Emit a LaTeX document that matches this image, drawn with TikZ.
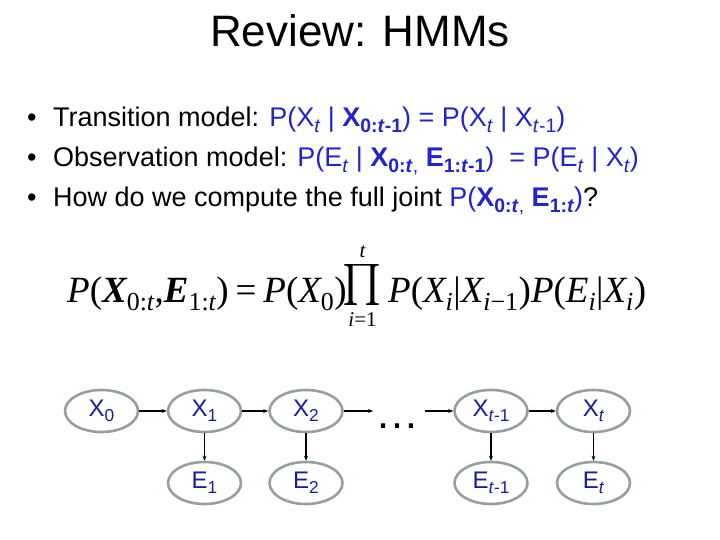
\documentclass[tikz,border=0pt]{standalone}
\usepackage{fontspec}
\usepackage{amsmath}
\usepackage{graphicx}
\setmainfont{Liberation Sans}
\newfontfamily\tms{Liberation Serif}
\usetikzlibrary{shapes.geometric,arrows.meta}
\definecolor{fblue}{RGB}{36,36,200}
\definecolor{nblue}{RGB}{28,28,150}
\definecolor{egray}{RGB}{150,160,160}
\newcommand\sbs[1]{\raisebox{-0.22em}{\scalebox{0.72}{#1}}}
\newcommand\tmi[1]{\text{\tms\itshape #1}}
\newcommand\tmu[1]{\text{\tms #1}}
\newcommand\tmb[1]{\text{\tms\bfseries\itshape #1}}
\tikzset{
  x=1pt, y=-1pt,
  var/.style={ellipse, draw=egray, line width=2.6pt, minimum width=73pt, minimum height=42pt, inner sep=0pt, text=nblue, font=\fontsize{24}{26}\selectfont},
  edge/.style={-{Stealth[length=5pt,width=4pt]}, line width=1.3pt, black},
  bul/.style={anchor=base west, inner sep=0pt, font=\fontsize{27}{30}\selectfont},
  fml/.style={anchor=base west, inner sep=0pt, font=\fontsize{37}{40}\selectfont},
  lim/.style={anchor=base, inner sep=0pt, font=\fontsize{21}{24}\selectfont\tms},
}
\begin{document}
\begin{tikzpicture}
\fill[white] (0,0) rectangle (720,540);
\useasboundingbox (0,0) rectangle (720,540);
\node[anchor=base, inner sep=0pt, font=\fontsize{44}{48}\selectfont] (title) at (360,47) {Review: HMMs};
\node[bul] (b1) at (27,127) {•};
\node[bul] (b2) at (27,167) {•};
\node[bul] (b3) at (27,207) {•};
\node[bul] (l1) at (53,127) {Transition model: {\color{fblue}P(X\sbs{\textit{t}} | \textbf{X}\sbs{\textbf{0:\textit{t}-1}}) = P(X\sbs{\textit{t}} | X\sbs{\textit{t}-1})}};
\node[bul] (l2) at (53,167) {Observation model: {\color{fblue}P(E\sbs{\textit{t}} | \textbf{X}\sbs{\textbf{0:\textit{t}},} \textbf{E}\sbs{\textbf{1:\textit{t}-1}})\ \ = P(E\sbs{\textit{t}} | X\sbs{\textit{t}})}};
\node[bul] (l3) at (53,207) {How do we compute the full joint {\color{fblue}P(\textbf{X}\sbs{\textbf{0:\textit{t}},} \textbf{E}\sbs{\textbf{1:\textit{t}}})}?};
\node[fml] (fa) at (67,302)
 {$\tmi{P}\tmu{(}\tmb{X}_{\tmu{0:}\tmi{t}}\tmu{,}\tmb{E}_{\tmu{1:}\tmi{t}}\tmu{)}\mathrel{\tmu{=}}\tmi{P}\tmu{(}\tmi{X}_{\tmu{0}}\tmu{)}$};
\node[anchor=base, inner sep=0pt] (prod) at (362.5,302)
 {\raisebox{-3pt}{\resizebox{39pt}{41pt}{\raisebox{\depth}{$\prod$}}}};
\node[lim] (top) at (362.5,257) {\itshape t};
\node[lim] (bot) at (362.5,326) {\itshape i\upshape =1};
\node[fml] (fb) at (388,302)
 {$\tmi{P}\tmu{(}\tmi{X}_{\tmi{i}}\tmu{|}\tmi{X}_{\tmi{i}\tmu{−1}}\tmu{)}\tmi{P}\tmu{(}\tmi{E}_{\tmi{i}}\tmu{|}\tmi{X}_{\tmi{i}}\tmu{)}$};
\node[var] (x0) at (101.5,411) {X\sbs{0}};
\node[var] (x1) at (204.5,411) {X\sbs{1}};
\node[var] (x2) at (306,411) {X\sbs{2}};
\node[var] (xt1) at (491,411) {X\sbs{\textit{t}-1}};
\node[var] (xt) at (593.5,411) {X\sbs{\textit{t}}};
\node[var] (e1) at (204.5,483) {E\sbs{1}};
\node[var] (e2) at (306,483) {E\sbs{2}};
\node[var] (et1) at (491,483) {E\sbs{\textit{t}-1}};
\node[var] (et) at (593.5,483) {E\sbs{\textit{t}}};
\node[anchor=base, inner sep=0pt, font=\fontsize{44}{48}\selectfont] (dots) at (397.5,428) {…};
\coordinate (d1) at (373,411);
\coordinate (d2) at (425,411);
\draw[edge] (x0) -- (x1);
\draw[edge] (x1) -- (x2);
\draw[edge] (x2.east) -- (d1);
\draw[edge] (d2) -- (xt1.west);
\draw[edge] (xt1) -- (xt);
\draw[edge] (x1) -- (e1);
\draw[edge] (x2) -- (e2);
\draw[edge] (xt1) -- (et1);
\draw[edge] (xt) -- (et);
\end{tikzpicture}
\end{document}
